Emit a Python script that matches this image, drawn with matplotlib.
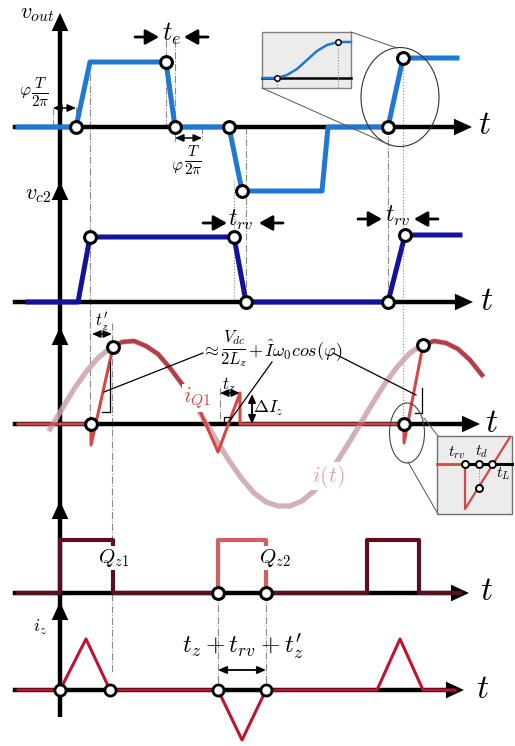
import matplotlib.pyplot as plt
from matplotlib.patches import Ellipse, Rectangle

plt.rcParams['mathtext.fontset'] = 'cm'

# y position of the t axis of every trace (picture units, y grows downward)
base = {'vout': 127, 'vc2': 302, 'iq': 424, 'qz': 593, 'iz': 690}

# v_out
vout_t = [18, 76, 90, 166, 175, 229, 242, 322, 328, 388, 403, 457]
vout_v = [0, 0, 65, 65, 0, 0, -64, -64, 0, 0, 69, 69]
vout_dot_t = [76, 166, 175, 229, 242, 388, 403]
vout_dot_v = [0, 65, 0, 0, -64, 0, 69]

# zoomed rise of v_out (inset, own baseline at 78)
zoom_t = [263, 277, 287, 297, 307, 317, 327, 338, 351]
zoom_v = [0, 0, 3, 9, 18, 27, 33, 36, 36]

# v_c2
vc2_t = [28, 78, 90, 234, 246, 388, 405, 460]
vc2_v = [0, 0, 65, 65, 0, 0, 67, 67]
vc2_dot_t = [90, 234, 246, 388, 405]
vc2_dot_v = [65, 65, 0, 0, 67]

# i(t) sinusoid
it_t = [50, 62, 74, 86, 98, 110, 122, 134, 146, 158, 170, 182, 194, 206, 218, 230, 242, 254, 266,
        278, 290, 302, 314, 326, 338, 350, 362, 374, 386, 398, 410, 422, 434, 446, 458, 470, 482]
it_v = [-5, 15, 35, 52, 66, 76, 82, 83, 78, 70, 56, 40, 21, 1, -19, -38, -55, -69, -78,
        -82, -82, -77, -67, -53, -36, -17, 3, 23, 42, 58, 71, 79, 83, 81, 75, 64, 49]

# i_Q1 pieces
iq_a_t = [18, 91, 91, 113]
iq_a_v = [0, 0, -21, 77]
iq_s1_t = [113, 122, 134, 146, 158, 170, 182, 186]
iq_s1_v = [77, 82, 83, 78, 70, 56, 40, 33]
iq_b_t = [200, 218, 240, 240, 404, 404, 423]
iq_b_v = [13, -28, 31, 0, 0, -19, 79]
iq_s2_t = [423, 434, 446, 458, 470, 482]
iq_s2_v = [79, 83, 81, 75, 64, 49]
iq_dot_t = [91, 113, 404, 423]
iq_dot_v = [0, 77, 0, 79]

# Q_z gate signals
qz1_t = [18, 60, 60, 113, 113, 218]
qz1_v = [0, 0, 53, 53, 0, 0]
qz2_t = [218, 218, 266, 266]
qz2_v = [0, 53, 53, 0]
qz3_t = [266, 367, 367, 419, 419, 460]
qz3_v = [0, 0, 53, 53, 0, 0]
qz_dot_t = [218, 266]

# i_z
iz_t = [18, 60, 86, 110, 218, 242, 266, 377, 400, 423, 455]
iz_v = [0, 0, 51, 0, 0, -50, 0, 0, 51, 0, 0]
iz_dot_t = [60, 110, 218, 266]

# zoom of the i_Q1 turn-on (inset, own baseline at 464)
ins_t = [465, 465, 510]
ins_v = [0, -45, 27]
ins_dot_t = [465, 479, 492, 479]
ins_dot_v = [0, 0, 0, -24]

BLUE = '#1f78d2'
NAVY = '#12129e'
RED = '#d24848'
RED_D = '#b53d47'
PALE = '#c9a2ac'
WINE = '#5a0f1f'
ROSE = '#d06060'
CRIM = '#bd1434'
GUIDE = '#8a8a8a'

fig = plt.figure(figsize=(5.15, 7.46), dpi=100)
ax = fig.add_axes([0, 0, 1, 1])
ax.set_xlim(0, 515)
ax.set_ylim(746, 0)
ax.axis('off')


def trace(key, t, v, **kw):
    ax.plot(t, [base[key] - a for a in v], **kw)


def dots(key, t, v, ms=8.5, mew=2.2):
    ax.plot(t, [base[key] - a for a in v], 'o', ms=ms, mfc='white', mec='k', mew=mew, zorder=8)


def head(x, y, dx, dy, hl=1.3, hw=0.6, z=4):
    ax.annotate('', xy=(x, y), xytext=(x - dx, y - dy),
                arrowprops=dict(arrowstyle='-|>,head_length=%s,head_width=%s' % (hl, hw),
                                mutation_scale=10, lw=0, color='k', shrinkA=0, shrinkB=0),
                zorder=z)


def arrow(x0, x1, y, lw=2.0):
    ax.annotate('', xy=(x1, y), xytext=(x0, y),
                arrowprops=dict(arrowstyle='-|>,head_length=0.8,head_width=0.45',
                                mutation_scale=10, lw=lw, color='k', shrinkA=0, shrinkB=0))


def dim(x0, y0, x1, y1, lw=1.1):
    ax.annotate('', xy=(x1, y1), xytext=(x0, y0),
                arrowprops=dict(arrowstyle='<|-|>,head_length=0.5,head_width=0.22',
                                mutation_scale=10, lw=lw, color='k', shrinkA=0, shrinkB=0))


def guide(x, y0, y1, ls='-.'):
    ax.plot([x, x], [y0, y1], ls=ls, color=GUIDE, lw=0.8, zorder=1)


def frac(x, y, num, den, w, fs=12):
    # stacked fraction: numerator, bar, denominator centred on (x, y)
    ax.text(x, y - 2, num, fontsize=fs, ha='center', va='bottom')
    ax.plot([x - w / 2, x + w / 2], [y, y], color='k', lw=0.7)
    ax.text(x, y + 1, den, fontsize=fs, ha='center', va='top')


# guide lines
for x, y0, y1 in [(53, 108, 127), (76, 107, 127), (90, 62, 424), (112, 323, 673),
                  (166, 40, 127), (175, 40, 143), (202, 127, 140), (246, 127, 302),
                  (388, 127, 302), (220, 388, 424), (218, 593, 690), (266, 593, 690)]:
    guide(x, y0, y1)
for x, y0, y1 in [(234, 180, 302), (403, 58, 424)]:
    guide(x, y0, y1, ls=':')

# axes
ax.plot([60, 60], [717, 20], color='k', lw=3.2, zorder=3, solid_capstyle='butt')
for tip in [13, 182, 327, 501, 602]:
    head(60, tip, 0, -18)
for key, x1 in [('vout', 455), ('vc2', 456), ('iq', 463), ('qz', 452), ('iz', 447)]:
    ax.plot([15, x1], [base[key]] * 2, color='k', lw=3.2, zorder=3)
    head(x1 + 17, base[key], 18, 0)
for key, x in [('vout', 478), ('vc2', 480), ('iq', 485), ('qz', 480), ('iz', 476)]:
    ax.text(x, base[key] - 2, '$t$', fontsize=24, ha='left', va='center')

# v_out
trace('vout', vout_t, vout_v, color=BLUE, lw=3.6, zorder=5)
dots('vout', vout_dot_t, vout_dot_v)
ax.text(54, 14, '$v_{out}$', fontsize=16, ha='right', va='center')
ax.text(172, 34, '$t_e$', fontsize=19, ha='center', va='center')
arrow(135, 159, 37)
arrow(208, 184, 37)
ax.text(25, 91, r'$\varphi$', fontsize=12, ha='center', va='center')
frac(40, 93, '$T$', r'$2\pi$', 16, fs=11)
dim(53, 108, 76, 108)
ax.text(177, 166, r'$\varphi$', fontsize=12, ha='center', va='center')
frac(193, 161, '$T$', r'$2\pi$', 16, fs=11)
dim(175, 138, 202, 138)

# inset of the v_out rise
ax.add_patch(Rectangle((262, 32), 89, 56, fc='#ececec', ec='#808080', lw=1.0, zorder=6))
ax.plot([262, 351], [78, 78], color='k', lw=1.8, zorder=7)
ax.plot(zoom_t, [78 - a for a in zoom_v], color=BLUE, lw=1.8, zorder=7)
ax.plot([277, 277], [78, 88], ls=':', color=GUIDE, lw=0.8, zorder=7)
ax.plot([338, 338], [42, 88], ls=':', color=GUIDE, lw=0.8, zorder=7)
ax.plot([277, 338], [78, 42], 'o', ms=4, mfc='white', mec='k', mew=1.1, zorder=8)
ax.add_patch(Ellipse((400, 97), 78, 99, fill=False, ec='#333333', lw=0.8, zorder=6))
ax.plot([351, 397], [32, 48], color='#555555', lw=0.7, zorder=6)
ax.plot([262, 390], [88, 145], color='#555555', lw=0.7, zorder=6)

# v_c2
trace('vc2', vc2_t, vc2_v, color=NAVY, lw=3.6, zorder=5)
dots('vc2', vc2_dot_t, vc2_dot_v)
ax.text(51, 195, '$v_{c2}$', fontsize=16, ha='right', va='center')
ax.text(241, 220, '$t_{rv}$', fontsize=17, ha='center', va='center')
arrow(203, 227, 223)
arrow(283, 259, 223)
ax.text(398, 216, '$t_{rv}$', fontsize=17, ha='center', va='center')
arrow(358, 382, 219)
arrow(438, 414, 219)

# i_Q1 and i(t)
trace('iq', it_t, it_v, color=PALE, lw=3.8, alpha=0.85, zorder=4)
trace('iq', iq_a_t, iq_a_v, color=RED, lw=2.2, zorder=5)
trace('iq', iq_s1_t, iq_s1_v, color=RED_D, lw=3.0, zorder=5)
trace('iq', iq_b_t, iq_b_v, color=RED, lw=2.2, zorder=5)
trace('iq', iq_s2_t, iq_s2_v, color=RED_D, lw=3.0, zorder=5)
dots('iq', iq_dot_t, iq_dot_v)
ax.text(197, 398, '$i_{Q1}$', fontsize=16, color=RED, ha='center', va='center', zorder=6,
        bbox=dict(fc='white', ec='none', pad=0.3))
ax.text(328, 476, '$i(t)$', fontsize=16, color='#dba8ba', ha='center', va='center', zorder=6,
        bbox=dict(fc='white', ec='none', pad=0.2))
ax.text(102, 322, r'$t_z^{\prime}$', fontsize=12, ha='center', va='center')
dim(92, 334, 112, 334)
ax.text(229, 385, '$t_z$', fontsize=12, ha='center', va='center')
dim(220, 393, 240, 393)
dim(252, 394, 252, 424, lw=1.3)
ax.text(268, 408, r'$\Delta I_z$', fontsize=13, ha='center', va='center')
ax.text(210, 350, r'$\approx$', fontsize=13, ha='center', va='center')
frac(234, 349, '$V_{dc}$', '$2L_z$', 22, fs=12)
ax.text(248, 350, r'$+\,\hat{I}\omega_0 cos(\varphi)$', fontsize=13, ha='left', va='center')
for xs, ys in [([203, 104], [353, 392]), ([272, 229], [362, 422]), ([333, 416], [353, 395]),
               ([110, 110, 102], [362, 412, 412]), ([422, 422, 415], [388, 413, 413]),
               ([224, 224, 231], [424, 417, 417])]:
    ax.plot(xs, ys, color='k', lw=0.9, zorder=6)

# inset of the i_Q1 turn-on
ax.add_patch(Ellipse((407, 433), 35, 60, fill=False, ec='#444444', lw=0.8, zorder=6))
ax.plot([408, 438], [462, 514], color='#555555', lw=0.7, zorder=6)
ax.plot([424, 438], [418, 436], color='#555555', lw=0.7, zorder=6)
ax.add_patch(Rectangle((437, 436), 75, 78, fc='#ececec', ec='#707070', lw=1.0, zorder=6))
ax.plot([465, 512], [464, 464], color='k', lw=2.2, zorder=7)
ax.plot([437, 465], [464, 464], color=RED, lw=2.0, zorder=7)
ax.plot(ins_t, [464 - a for a in ins_v], color=RED, lw=1.6, zorder=7)
ax.plot([479, 479], [464, 488], ls=':', color=GUIDE, lw=0.8, zorder=7)
ax.plot(ins_dot_t, [464 - a for a in ins_dot_v], 'o', ms=5, mfc='white', mec='k', mew=1.4, zorder=8)
ax.text(457, 453, '$t_{rv}$', fontsize=11, ha='center', va='center', zorder=9)
ax.text(482, 452, '$t_d$', fontsize=11, ha='center', va='center', zorder=9)
ax.text(503, 474, '$t_L$', fontsize=11, ha='center', va='center', zorder=9)

# Q_z gates
trace('qz', qz1_t, qz1_v, color=WINE, lw=3.0, zorder=5)
trace('qz', qz2_t, qz2_v, color=ROSE, lw=3.0, zorder=5)
trace('qz', qz3_t, qz3_v, color=WINE, lw=3.0, zorder=5)
dots('qz', qz_dot_t, [0, 0])
ax.text(114, 558, '$Q_{z1}$', fontsize=15, ha='center', va='center', zorder=9,
        bbox=dict(fc='white', ec='none', pad=0.5))
ax.text(275, 558, '$Q_{z2}$', fontsize=15, ha='center', va='center', zorder=9,
        bbox=dict(fc='white', ec='none', pad=0.5))

# i_z
trace('iz', iz_t, iz_v, color=CRIM, lw=2.2, zorder=5)
dots('iz', iz_dot_t, [0, 0, 0, 0], ms=8, mew=2.0)
ax.text(40, 627, '$i_z$', fontsize=13, ha='center', va='center')
ax.text(243, 647, r'$t_z+t_{rv}+t_z^{\prime}$', fontsize=18, ha='center', va='center')
dim(218, 670, 266, 670, lw=1.3)

fig.savefig('out.png', dpi=100)
